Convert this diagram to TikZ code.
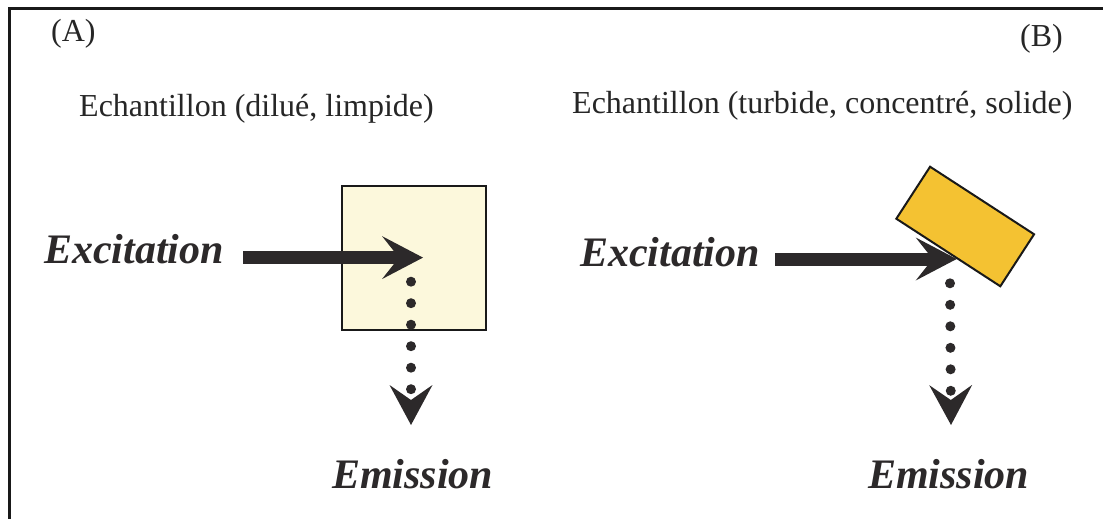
\documentclass[tikz,border=0pt]{standalone}
\usepackage{fontspec}
\setmainfont{Liberation Serif}
\usetikzlibrary{arrows.meta}
\definecolor{inkdark}{HTML}{2C292A}
\definecolor{paleyellow}{HTML}{FCF8DC}
\definecolor{goldyellow}{HTML}{F4C232}
\begin{document}
\begin{tikzpicture}[x=1pt,y=-1pt,
  lbl/.style={inner sep=0pt,anchor=base west,font=\fontsize{32}{38}\selectfont,text=black!85},
  big/.style={inner sep=0pt,anchor=base west,font=\fontsize{42}{48}\selectfont\bfseries\itshape,text=inkdark},
  shaft/.style={draw=inkdark,line width=13pt,-{Stealth[length=41pt,width=43pt,inset=17pt,line width=0pt]}},
  dotline/.style={draw=inkdark,line width=10pt,line cap=round,dash pattern=on 0pt off 21.5pt,-{Stealth[length=40pt,width=43pt,inset=15pt,line width=0pt]}},
  sample/.style={draw=black!90,line width=2pt,inner sep=0pt}]
\useasboundingbox[fill=white] (0,0) rectangle (1103,519);
% frame
\draw[line width=2.5pt,black!90] (9.3,519) -- (9.3,8.3) -- (1103,8.3);
% labels
\node[lbl] (labA) at (51,42) {(A)};
\node[lbl] (labB) at (1020,47) {(B)};
\node[lbl] (echA) at (79,116) {Echantillon (dilué, limpide)};
\node[lbl] (echB) at (572,113) {Echantillon (turbide, concentré, solide)};
% panel A
\node[sample,fill=paleyellow,minimum width=144pt,minimum height=144pt] (sqA) at (414,258) {};
\node[big] (excA) at (44,263.3) {Excitation};
\node[big] (emA) at (332,488.3) {Emission};
\coordinate (sA) at (243,257.6);
\coordinate (tA) at (423,257.6);
\coordinate (dA) at (411,281.7);
\coordinate (eA) at (411,425);
\draw[shaft] (sA) -- (tA);
\draw[dotline] (dA) -- (eA);
% panel B
\node[sample,fill=goldyellow,minimum width=124pt,minimum height=62pt,rotate=-33] (rectB) at (965.2,226.5) {};
\node[big] (excB) at (580,266.7) {Excitation};
\node[big] (emB) at (868,488.3) {Emission};
\coordinate (sB) at (775,259);
\coordinate (tB) at (956.7,259);
\coordinate (dB) at (950,283.3);
\coordinate (eB) at (951,425);
\draw[shaft] (sB) -- (tB);
\draw[dotline] (dB) -- (eB);
\end{tikzpicture}
\end{document}
